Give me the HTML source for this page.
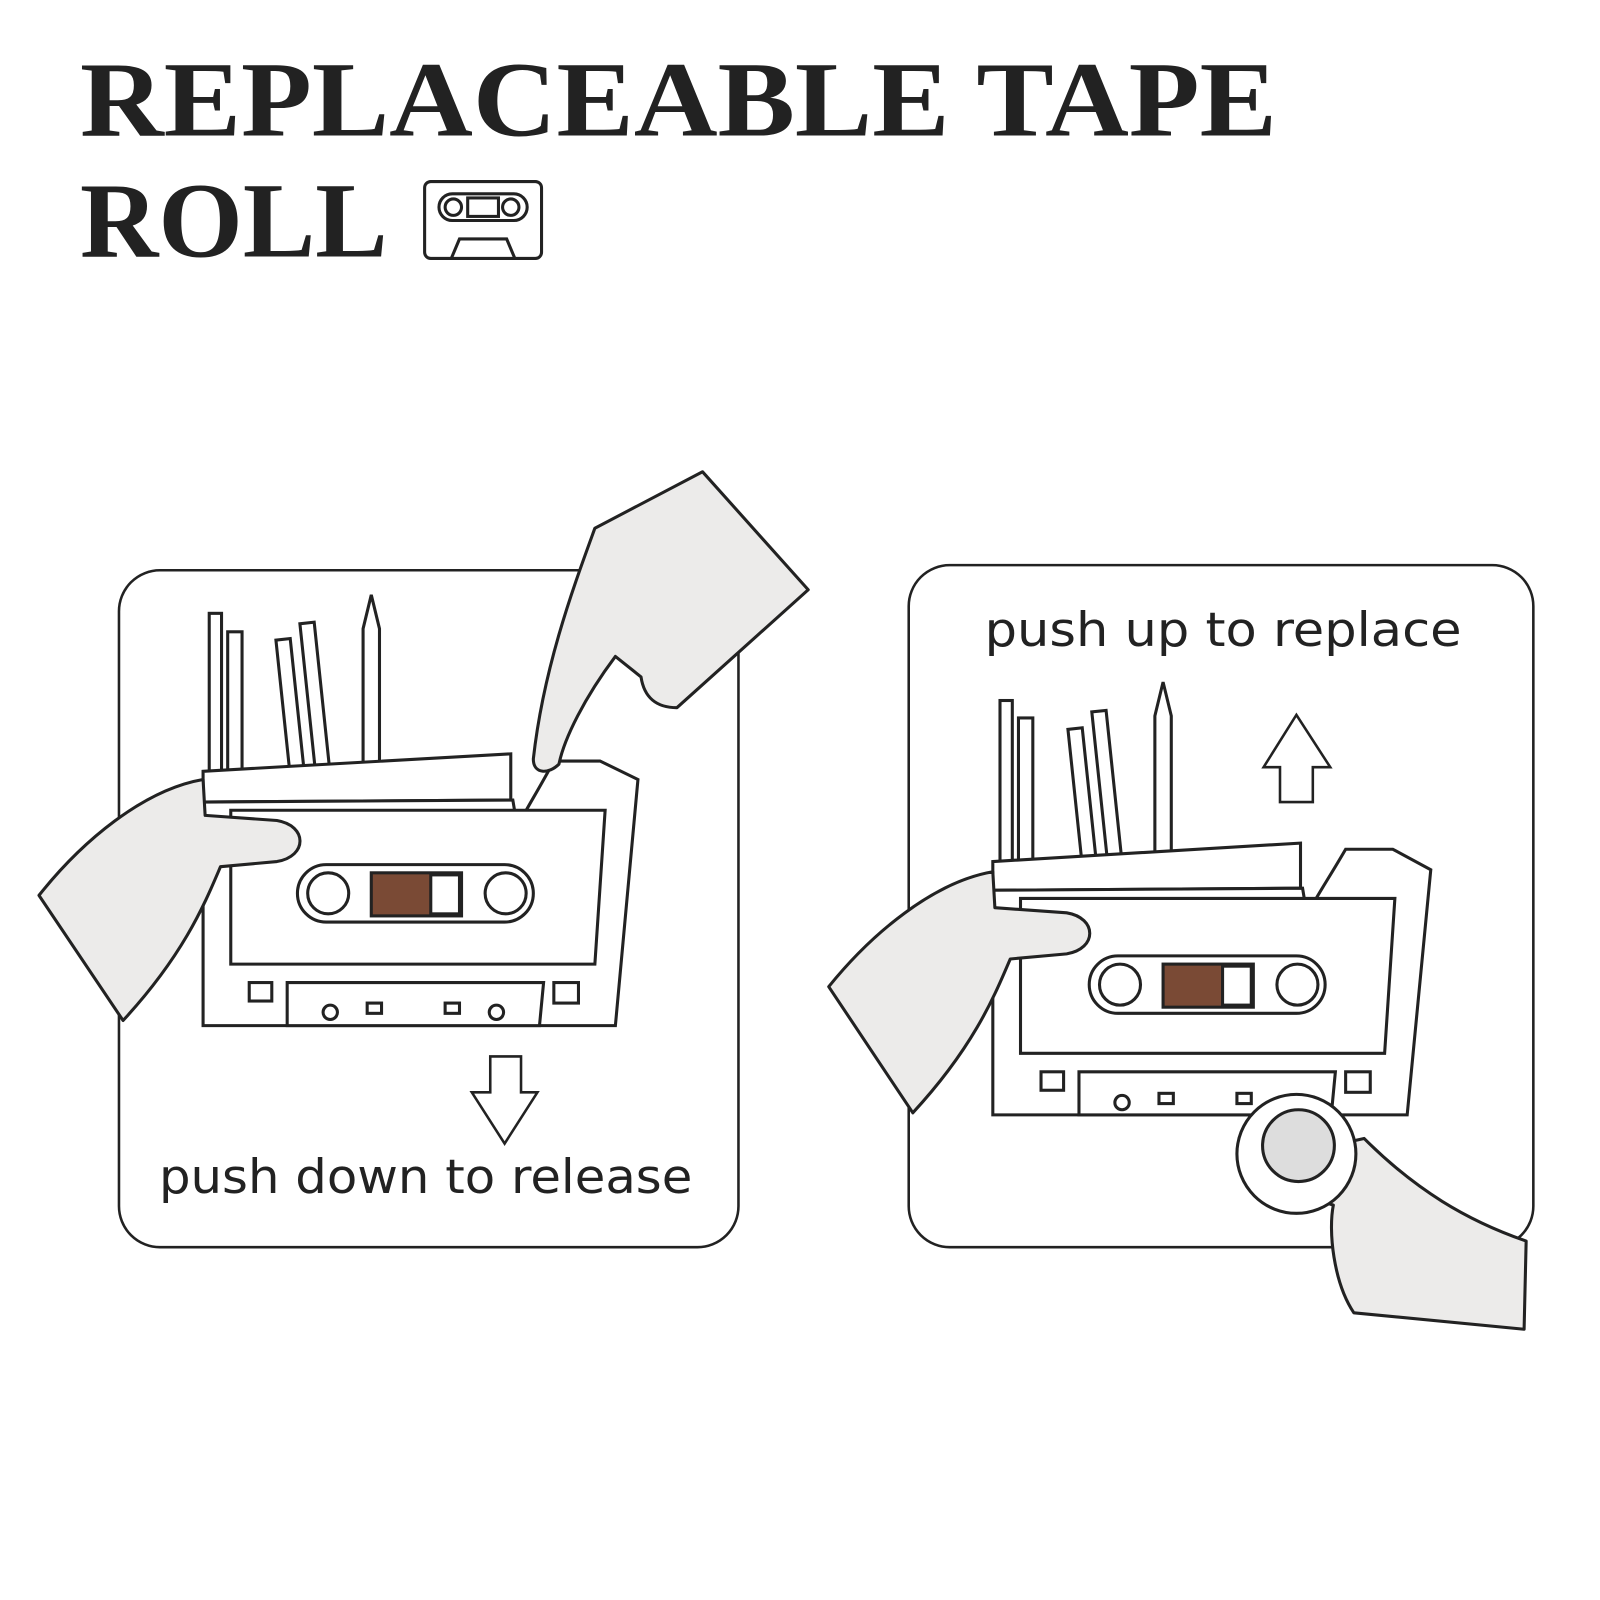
<!DOCTYPE html>
<html><head><meta charset="utf-8"><style>
html,body{margin:0;padding:0;background:#fff;width:1600px;height:1600px;overflow:hidden}
svg{display:block}
</style></head><body>
<svg width="1600" height="1600" viewBox="0 0 1560 1560" xmlns="http://www.w3.org/2000/svg">
<g font-family="Liberation Serif, serif" font-weight="bold" fill="#222">
<text x="78" y="132" font-size="104" textLength="1167" lengthAdjust="spacingAndGlyphs">REPLACEABLE TAPE</text>
<text x="78" y="250" font-size="104" textLength="300" lengthAdjust="spacingAndGlyphs">ROLL</text>
</g>
<g fill="none" stroke="#222" stroke-width="3">
<rect x="414" y="177" width="114" height="75" rx="6"/>
<rect x="428" y="189" width="86" height="26" rx="13"/>
<circle cx="442" cy="202" r="8"/><circle cx="498" cy="202" r="8"/>
<rect x="456" y="193" width="30" height="18"/>
<path d="M440 252 L448 233 L494 233 L502 252"/>
</g>
<g stroke="#222" stroke-width="2.5" fill="none">
<rect x="116" y="556" width="604" height="660" rx="40"/>
<rect x="886" y="551" width="609" height="665" rx="40"/>
</g>
<g font-family="DejaVu Sans, sans-serif" fill="#222">
<text x="155" y="1163" font-size="46" textLength="520" lengthAdjust="spacingAndGlyphs">push down to release</text>
<text x="960" y="630" font-size="46" textLength="465" lengthAdjust="spacingAndGlyphs">push up to replace</text>
</g>
<path d="M478 1030 L508 1030 L508 1065 L524 1065 L492 1115 L460 1065 L478 1065 Z" fill="#fff" stroke="#222" stroke-width="2.5"/>
<path d="M1248 782 L1280 782 L1280 748 L1297 748 L1264 697 L1232 748 L1248 748 Z" fill="#fff" stroke="#222" stroke-width="2.5"/>

<g stroke="#222" stroke-width="3" fill="#fff">
<rect x="204" y="598" width="12" height="155"/><rect x="222" y="616" width="14" height="137"/>
<rect x="276" y="623" width="14" height="130" transform="rotate(-6 283 690)"/>
<rect x="300" y="607" width="14" height="146" transform="rotate(-6 307 680)"/>
<path d="M354 755 L354 613 L362 580 L370 613 L370 755 Z"/>
<path d="M198 752 L498 735 L498 780 L198 782 Z"/>
<path d="M198 782 L198 1000 L600 1000 L622 760 L585 742 L540 742 C520 780 505 800 505 810 L500 780 L198 782"/>
<path d="M225 790 L225 940 L580 940 L590 790 Z"/>
<rect x="290" y="843" width="230" height="56" rx="28"/>
<circle cx="320" cy="871" r="20"/><circle cx="493" cy="871" r="20"/>
<rect x="362" y="851" width="88" height="42" fill="#7a4a35"/>
<rect x="420" y="853" width="28" height="38" fill="#fff"/>
<path d="M280 958 L530 958 L526 1000 L280 1000 Z"/>
<rect x="243" y="958" width="22" height="18"/><rect x="540" y="958" width="24" height="20"/>
<circle cx="322" cy="987" r="7"/><circle cx="484" cy="987" r="7"/>
<rect x="358" y="978" width="14" height="10"/><rect x="434" y="978" width="14" height="10"/>
</g>
<g stroke="#222" stroke-width="3" fill="#ecebea" stroke-linejoin="round">
<path d="M38 873 C80 820 140 770 198 760 L200 795 L270 800 C300 805 300 835 270 840 L215 845 C200 880 180 930 120 995 Z"/>
<path d="M520 740 C530 650 560 570 580 515 L685 460 L788 575 L660 690 C640 690 628 680 625 660 L600 640 C570 680 550 720 545 745 C535 755 520 755 520 740 Z"/>
</g>

<g stroke="#222" stroke-width="3" fill="#fff">
<rect x="975" y="683" width="12" height="157"/><rect x="993" y="700" width="14" height="140"/>
<rect x="1048" y="710" width="14" height="130" transform="rotate(-6 1055 775)"/>
<rect x="1072" y="693" width="14" height="147" transform="rotate(-6 1079 765)"/>
<path d="M1126 842 L1126 698 L1134 665 L1142 698 L1142 842 Z"/>
<path d="M968 840 L1268 822 L1268 866 L968 868 Z"/>
<path d="M968 868 L968 1087 L1372 1087 L1395 848 L1358 828 L1312 828 C1290 866 1275 886 1275 896 L1270 866 L968 868"/>
<path d="M995 876 L995 1027 L1350 1027 L1360 876 Z"/>
<rect x="1062" y="932" width="230" height="56" rx="28"/>
<circle cx="1092" cy="960" r="20"/><circle cx="1265" cy="960" r="20"/>
<rect x="1134" y="940" width="88" height="42" fill="#7a4a35"/>
<rect x="1192" y="942" width="28" height="38" fill="#fff"/>
<path d="M1052 1045 L1302 1045 L1298 1087 L1052 1087 Z"/>
<rect x="1015" y="1045" width="22" height="18"/><rect x="1312" y="1045" width="24" height="20"/>
<circle cx="1094" cy="1075" r="7"/><circle cx="1258" cy="1075" r="7"/>
<rect x="1130" y="1066" width="14" height="10"/><rect x="1206" y="1066" width="14" height="10"/>
</g>
<g stroke="#222" stroke-width="3" fill="#ecebea" stroke-linejoin="round">
<path d="M808 962 C850 910 910 860 968 850 L970 885 L1040 890 C1070 895 1070 925 1040 930 L985 935 C970 970 950 1020 890 1085 Z"/>
<path d="M1330 1110 C1380 1160 1430 1190 1488 1210 L1486 1296 L1320 1280 C1300 1250 1295 1200 1300 1175 L1210 1145 L1240 1130 Z"/>
</g>
<g stroke="#222" stroke-width="3" fill="#fff">
<circle cx="1264" cy="1125" r="58"/>
<circle cx="1266" cy="1117" r="35" fill="#ddd"/>
</g>
</svg>
</body></html>
